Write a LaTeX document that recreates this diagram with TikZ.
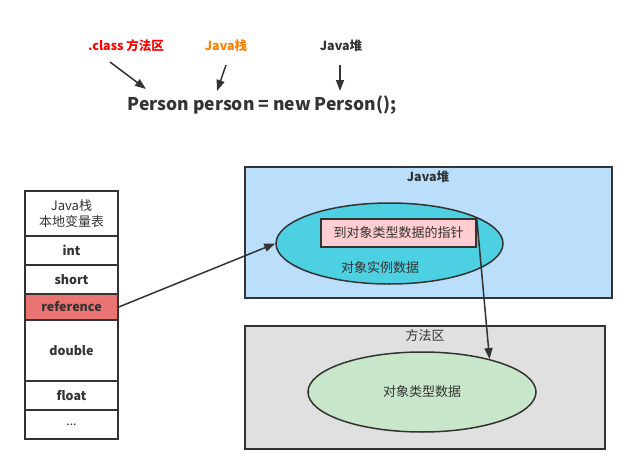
\documentclass[tikz,border=0pt]{standalone}
\usepackage{fontspec}
\setmainfont{Noto Sans CJK SC}
\usetikzlibrary{arrows.meta,shapes.geometric}
\definecolor{linec}{HTML}{333333}
\definecolor{txt}{HTML}{333333}
\definecolor{heapc}{HTML}{BBDEFB}
\definecolor{cyanc}{HTML}{4DD0E1}
\definecolor{pinkc}{HTML}{FFCDD2}
\definecolor{grayc}{HTML}{E0E0E0}
\definecolor{greenc}{HTML}{C8E6C9}
\definecolor{refc}{HTML}{EA7373}
\definecolor{redc}{HTML}{FF0000}
\definecolor{orangec}{HTML}{FF8000}
\begin{document}
\begin{tikzpicture}[x=1pt,y=-1pt,
  cell/.style={draw=linec, line width=1.5pt, minimum width=93pt, inner sep=0pt, text=txt, font=\bfseries\fontsize{12.5}{15}\selectfont},
  area/.style={draw=linec, line width=1.6pt, inner sep=0pt},
  lbl/.style={text=txt, inner sep=0pt, font=\fontsize{13}{15}\selectfont},
  blbl/.style={text=txt, inner sep=0pt, font=\bfseries\fontsize{12.5}{15}\selectfont},
  arr/.style={draw=linec, line width=1.5pt, -{Triangle[length=11pt,width=8pt]}},
  oval/.style={ellipse, draw=linec, line width=1.5pt, inner sep=0pt}]
\useasboundingbox (0,0) rectangle (638,474);
% top
\node[blbl, text=redc] (cls) at (126,46) {.class 方法区};
\node[blbl, text=orangec] (jstack) at (226,46) {Java栈};
\node[blbl] (jheap) at (341,46) {Java堆};
\node[text=txt, inner sep=0pt, font=\bfseries\fontsize{17.5}{20}\selectfont] (code) at (262,105) {Person person = new Person();};
\coordinate (a1s) at (110,62); \coordinate (a1e) at (146,89);
\coordinate (a2s) at (226,65); \coordinate (a2e) at (217,91);
\coordinate (a3s) at (340,65); \coordinate (a3e) at (340,91);
\draw[arr] (a1s) -- (a1e);
\draw[arr] (a2s) -- (a2e);
\draw[arr] (a3s) -- (a3e);
% stack table
\node[cell, minimum height=45pt, font=\fontsize{13}{16}\selectfont, align=center] (hdr) at (71.5,213.5) {Java栈\\本地变量表};
\node[cell, minimum height=29pt] (int) at (71.5,250.5) {int};
\node[cell, minimum height=29pt] (short) at (71.5,279.5) {short};
\node[cell, minimum height=26pt, fill=refc] (ref) at (71.5,307) {reference};
\node[cell, minimum height=61pt] (dbl) at (71.5,350.5) {double};
\node[cell, minimum height=29pt] (flt) at (71.5,395.5) {float};
\node[cell, minimum height=29pt, font=\fontsize{12.5}{15}\selectfont] (dots) at (71.5,424.5) {...};
% heap
\node[area, fill=heapc, minimum width=367pt, minimum height=131pt] (heap) at (428.5,232.5) {};
\node[blbl] (heapt) at (428,177) {Java堆};
\node[oval, fill=cyanc, minimum width=227pt, minimum height=81pt] (inst) at (389.5,243.5) {};
\node[draw=linec, line width=1.5pt, fill=pinkc, minimum width=155pt, minimum height=28pt, inner sep=0pt, text=txt, font=\fontsize{13}{15}\selectfont] (ptr) at (398.5,233) {到对象类型数据的指针};
\node[lbl] (instt) at (380,268) {对象实例数据};
% method area
\node[area, fill=grayc, minimum width=360pt, minimum height=123pt] (meth) at (425,387.5) {};
\node[lbl] (metht) at (425,336) {方法区};
\node[oval, fill=greenc, minimum width=228pt, minimum height=80pt] (type) at (422,392) {};
\node[lbl] (typet) at (422,392) {对象类型数据};
% connectors
\draw[arr] (ref.east) -- (inst.west);
\draw[arr] (ptr.north east) -- (type.26);
\end{tikzpicture}
\end{document}
